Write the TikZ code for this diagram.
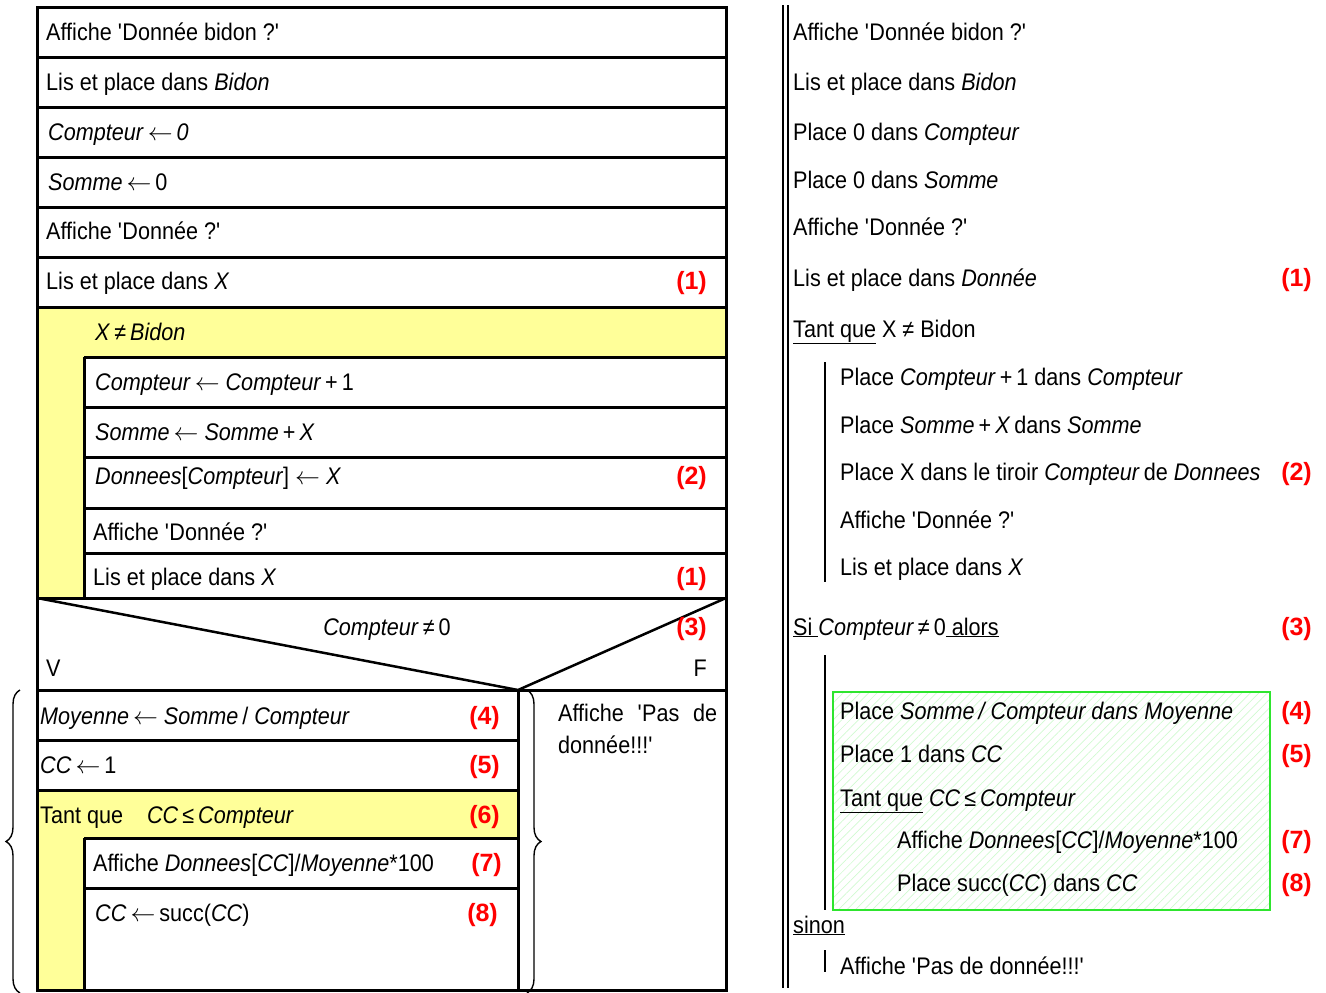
\documentclass[tikz,border=0pt]{standalone}
\usepackage{fontspec}
\setmainfont{Liberation Sans}[FakeStretch=0.9]
\newfontfamily\lblfont{Liberation Sans}
\usetikzlibrary{decorations.pathreplacing,patterns.meta}
\definecolor{lyellow}{HTML}{FFFF99}
\definecolor{lblred}{HTML}{FF0000}
\definecolor{hgreen}{rgb}{0.18,0.9,0.18}
\newcommand{\sq}{\textquotesingle}
\newcommand{\la}{\ensuremath{\leftarrow}}
\begin{document}
\begin{tikzpicture}[x=1pt,y=-1pt,
  txt/.style={anchor=base west,inner sep=0pt,font=\fontsize{24}{28}\selectfont},
  ctxt/.style={anchor=base,inner sep=0pt,font=\fontsize{24}{28}\selectfont},
  rtxt/.style={anchor=base east,inner sep=0pt,font=\fontsize{24}{28}\selectfont},
  lbl/.style={anchor=base east,inner sep=0pt,text=lblred,font=\lblfont\bfseries\fontsize{25}{28}\selectfont},
  boxline/.style={line width=3pt},
  diagline/.style={line width=2.5pt},
  thinbar/.style={line width=1.6pt},
  bracestyle/.style={line width=1.4pt,decorate,decoration={brace,amplitude=14pt}}
]
\useasboundingbox (0,0) rectangle (1326,993);

% ---------- left: structogram ----------
% yellow loop areas
\fill[lyellow] (37,307) rectangle (726,598);
\fill[white] (84,357) rectangle (726,598);
\fill[lyellow] (37,790) rectangle (518,990);
\fill[white] (84,838) rectangle (518,990);

% outer box and rows
\draw[boxline] (37,7) rectangle (726,990);
\foreach \yy in {57,107,157,207,257,307,598,690}
  \draw[boxline] (37,\yy) -- (726,\yy);
% inner loop 1
\draw[boxline] (84,357) -- (84,598);
\foreach \yy in {357,407,457,508,553}
  \draw[boxline] (84,\yy) -- (726,\yy);
% decision
\coordinate (dl) at (37,598);
\coordinate (dr) at (726,598);
\coordinate (dm) at (518,690);
\draw[diagline] (dl) -- (dm) -- (dr);
% branches
\draw[boxline] (518,690) -- (518,990);
\foreach \yy in {740,790}
  \draw[boxline] (37,\yy) -- (518,\yy);
\foreach \yy in {838,888}
  \draw[boxline] (84,\yy) -- (518,\yy);
\draw[boxline] (84,838) -- (84,990);

% braces
\draw[bracestyle] (20,993) -- (20,690);
\draw[bracestyle] (527,690) -- (527,993);

% texts left
\node[txt] (a1) at (46,40) {Affiche \sq Donnée bidon ?\sq};
\node[txt] (a2) at (46,90) {Lis et place dans \textit{Bidon}};
\node[txt] (a3) at (48,140) {\textit{Compteur}\,\la\,\textit{0}};
\node[txt] (a4) at (48,190) {\textit{Somme}\,\la\,0};
\node[txt] (a5) at (46,239) {Affiche \sq Donnée ?\sq};
\node[txt] (a6) at (46,289) {Lis et place dans \textit{X}};
\node[lbl] (n1a) at (707,289) {(1)};
\node[txt] (b0) at (95,340) {\textit{X}\,≠\,\textit{Bidon}};
\node[txt] (b1) at (95,390) {\textit{Compteur}\,\la\ \textit{Compteur}\,+\,1};
\node[txt] (b2) at (95,440) {\textit{Somme}\,\la\ \textit{Somme}\,+\,\textit{X}};
\node[txt] (b3) at (95,484) {\textit{Donnees}[\textit{Compteur}] \la\ \textit{X}};
\node[lbl] (n2a) at (707,484) {(2)};
\node[txt] (b4) at (93,540) {Affiche \sq Donnée ?\sq};
\node[txt] (b5) at (93,585) {Lis et place dans \textit{X}};
\node[lbl] (n1b) at (707,585) {(1)};
\node[ctxt] (c0) at (387,635) {\textit{Compteur}\,≠\,0};
\node[lbl] (n3a) at (707,635) {(3)};
\node[txt] (cv) at (46,676) {V};
\node[rtxt] (cf) at (707,676) {F};
\node[txt] (d1) at (40,724) {\textit{Moyenne}\,\la\ \textit{Somme}\,/ \textit{Compteur}};
\node[lbl] (n4a) at (500,724) {(4)};
\node[txt] (d2) at (40,773) {\textit{CC}\,\la\,1};
\node[lbl] (n5a) at (500,773) {(5)};
\node[txt] (d3) at (40,823) {Tant que\quad\textit{CC}\,≤\,\textit{Compteur}};
\node[lbl] (n6a) at (500,823) {(6)};
\node[txt] (d4) at (93,871) {Affiche \textit{Donnees}[\textit{CC}]/\textit{Moyenne}*100};
\node[lbl] (n7a) at (502,871) {(7)};
\node[txt] (d5) at (95,921) {\textit{CC}\,\la\,succ(\textit{CC})};
\node[lbl] (n8a) at (498,921) {(8)};
\node[txt] (e1) at (558,721) {\makebox[159pt][s]{Affiche \sq Pas de}};
\node[txt] (e2) at (558,753) {donnée!!!\sq};

% ---------- right: pseudo-code ----------
\draw[thinbar] (783,5) -- (783,988);
\draw[thinbar] (788,5) -- (788,988);
\draw[thinbar] (825,362) -- (825,582);
\draw[thinbar] (825,655) -- (825,910);
\draw[thinbar] (825,950) -- (825,972);
\draw[draw=hgreen,line width=1.8pt,
      pattern={Lines[angle=45,distance=6pt,line width=0.7pt]},pattern color=hgreen!22]
  (833,692) rectangle (1270,910);

\node[txt] (r1) at (793,40) {Affiche \sq Donnée bidon ?\sq};
\node[txt] (r2) at (793,90) {Lis et place dans \textit{Bidon}};
\node[txt] (r3) at (793,140) {Place 0 dans \textit{Compteur}};
\node[txt] (r4) at (793,188) {Place 0 dans \textit{Somme}};
\node[txt] (r5) at (793,235) {Affiche \sq Donnée ?\sq};
\node[txt] (r6) at (793,286) {Lis et place dans \textit{Donnée}};
\node[lbl] (m1a) at (1312,286) {(1)};
\node[txt] (r7) at (793,337) {\underline{Tant que} X ≠ Bidon};
\node[txt] (r8) at (840,385) {Place \textit{Compteur}\,+\,1 dans \textit{Compteur}};
\node[txt] (r9) at (840,433) {Place \textit{Somme}\,+\,\textit{X}\,dans \textit{Somme}};
\node[txt] (r10) at (840,480) {Place X dans le tiroir \textit{Compteur}\,de \textit{Donnees}};
\node[lbl] (m2a) at (1312,480) {(2)};
\node[txt] (r11) at (840,528) {Affiche \sq Donnée ?\sq};
\node[txt] (r12) at (840,575) {Lis et place dans \textit{X}};
\node[txt] (r13) at (793,635) {\underline{Si\ }\textit{Compteur}\,≠\,0\underline{\ alors}};
\node[lbl] (m3a) at (1312,635) {(3)};
\node[txt] (r14) at (840,719) {Place \textit{Somme\,/ Compteur dans Moyenne}};
\node[lbl] (m4a) at (1312,719) {(4)};
\node[txt] (r15) at (840,762) {Place 1 dans \textit{CC}};
\node[lbl] (m5a) at (1312,762) {(5)};
\node[txt] (r16) at (840,806) {\underline{Tant que} \textit{CC}\,≤\,\textit{Compteur}};
\node[txt] (r17) at (897,848) {Affiche \textit{Donnees}[\textit{CC}]/\textit{Moyenne}*100};
\node[lbl] (m7a) at (1312,848) {(7)};
\node[txt] (r18) at (897,891) {Place succ(\textit{CC}) dans \textit{CC}};
\node[lbl] (m8a) at (1312,891) {(8)};
\node[txt] (r19) at (793,933) {\underline{sinon}};
\node[txt] (r20) at (840,974) {Affiche \sq Pas de donnée!!!\sq};
\end{tikzpicture}
\end{document}
